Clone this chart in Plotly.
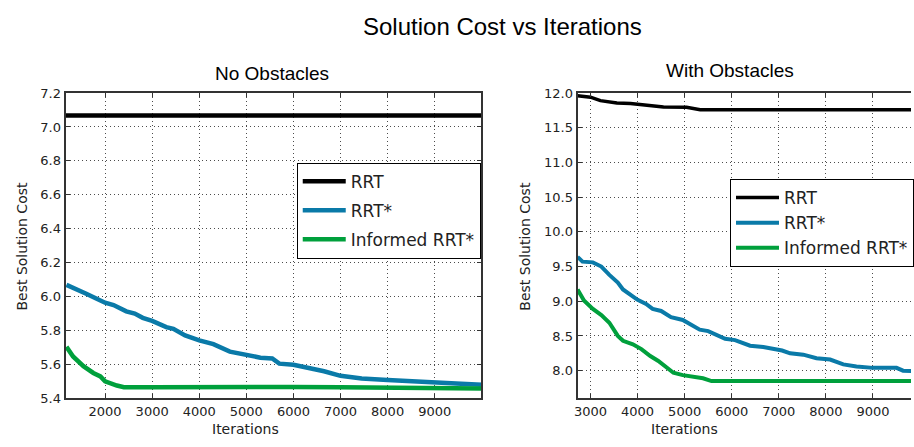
import plotly.graph_objects as go

# ---------------- data ----------------
# Left panel: No Obstacles
no_obs_rrt_x = [1160, 10000]
no_obs_rrt_y = [7.067, 7.067]

no_obs_rrtstar_x = [1180, 1400, 1600, 1800, 2000, 2180, 2450, 2630, 2800, 3000, 3160, 3300,
                    3450, 3700, 4000, 4300, 4650, 5000, 5300, 5550, 5700, 6000, 6350, 6650,
                    7000, 7450, 8000, 8500, 9000, 9560, 10000]
no_obs_rrtstar_y = [6.069, 6.045, 6.017, 5.99, 5.964, 5.95, 5.913, 5.90, 5.875, 5.857, 5.838, 5.82,
                    5.81, 5.771, 5.742, 5.72, 5.676, 5.653, 5.64, 5.635, 5.605, 5.598, 5.58, 5.56,
                    5.533, 5.518, 5.508, 5.499, 5.49, 5.486, 5.48]

no_obs_inf_x = [1180, 1320, 1540, 1750, 1900, 2000, 2250, 2400, 3000, 4000, 5000, 6000, 7000,
                8000, 9000, 10000]
no_obs_inf_y = [5.704, 5.647, 5.59, 5.55, 5.53, 5.501, 5.476, 5.466, 5.466, 5.468, 5.468, 5.467,
                5.466, 5.465, 5.462, 5.458]

# Right panel: With Obstacles
obs_rrt_x = [2725, 3000, 3210, 3560, 3850, 4270, 4550, 5040, 5330, 6000, 8000, 10000]
obs_rrt_y = [11.96, 11.94, 11.89, 11.856, 11.85, 11.82, 11.80, 11.795, 11.76, 11.76, 11.76, 11.76]

obs_rrtstar_x = [2725, 2830, 3050, 3230, 3400, 3580, 3690, 3830, 4000, 4180, 4320, 4500, 4710,
                 4960, 5140, 5320, 5500, 5680, 5860, 6070, 6390, 6670, 7070, 7240, 7520, 7800,
                 8090, 8370, 8650, 9000, 9500, 9640, 10000]
obs_rrtstar_y = [9.64, 9.57, 9.56, 9.50, 9.38, 9.27, 9.17, 9.10, 9.02, 8.96, 8.89, 8.86, 8.77,
                 8.73, 8.66, 8.59, 8.57, 8.51, 8.46, 8.44, 8.36, 8.34, 8.29, 8.25, 8.23, 8.18,
                 8.16, 8.09, 8.06, 8.04, 8.04, 8.00, 7.99]

obs_inf_x = [2725, 2860, 3050, 3230, 3400, 3580, 3690, 3900, 4080, 4270, 4440, 4580, 4760,
             4960, 5180, 5390, 5570, 7000, 10000]
obs_inf_y = [9.17, 9.01, 8.89, 8.80, 8.69, 8.50, 8.43, 8.38, 8.31, 8.21, 8.14, 8.06, 7.97,
             7.935, 7.91, 7.89, 7.85, 7.85, 7.85]

series_names = ["RRT", "RRT*", "Informed RRT*"]
series_colors = ["#000000", "#0a7aa8", "#00a03c"]

left_xticks = [2000, 3000, 4000, 5000, 6000, 7000, 8000, 9000]
left_yticks = [5.4, 5.6, 5.8, 6.0, 6.2, 6.4, 6.6, 6.8, 7.0, 7.2]
right_xticks = [3000, 4000, 5000, 6000, 7000, 8000, 9000]
right_yticks = [8.0, 8.5, 9.0, 9.5, 10.0, 10.5, 11.0, 11.5, 12.0]

# ---------------- figure ----------------
W, H = 914, 447
fig = go.Figure()

left_data = [(no_obs_rrt_x, no_obs_rrt_y), (no_obs_rrtstar_x, no_obs_rrtstar_y), (no_obs_inf_x, no_obs_inf_y)]
right_data = [(obs_rrt_x, obs_rrt_y), (obs_rrtstar_x, obs_rrtstar_y), (obs_inf_x, obs_inf_y)]

for i, (xs, ys) in enumerate(left_data):
    fig.add_trace(go.Scatter(x=xs, y=ys, mode="lines", name=series_names[i],
                             line=dict(color=series_colors[i], width=4.5),
                             legendgroup="L%d" % i,
                             xaxis="x", yaxis="y", legend="legend"))
for i, (xs, ys) in enumerate(right_data):
    fig.add_trace(go.Scatter(x=xs, y=ys, mode="lines", name=series_names[i],
                             line=dict(color=series_colors[i], width=4 if i else 3.5),
                             legendgroup="R%d" % i,
                             xaxis="x2", yaxis="y2", legend="legend2"))

def px(v):
    return v / W

def py(v):
    return 1 - v / H

tickfont = dict(family="DejaVu Sans", size=13, color="#222")
axis_common = dict(showline=True, linecolor="#333", linewidth=2,
                   ticks="inside", ticklen=4, tickcolor="#333",
                   showgrid=True, gridcolor="rgba(0,0,0,0.7)", gridwidth=1, griddash="1px,3px",
                   zeroline=False, tickfont=tickfont)

legend_common = dict(xanchor="left", yanchor="top", bgcolor="white",
                     bordercolor="black", borderwidth=1, itemwidth=43,
                     font=dict(family="DejaVu Sans", size=17, color="#222"),
                     groupclick="toggleitem")

ydom = [py(405), py(89)]
fig.update_layout(
    width=W, height=H, margin=dict(l=0, r=0, t=0, b=0),
    paper_bgcolor="white", plot_bgcolor="white",
    xaxis=dict(domain=[px(62), px(481)], range=[1160, 9990], tickvals=left_xticks,
               anchor="y", mirror="ticks", **axis_common),
    yaxis=dict(domain=ydom, range=[5.4, 7.2], tickvals=left_yticks, tickformat=".1f",
               anchor="x", mirror="ticks", **axis_common),
    xaxis2=dict(domain=[px(578), 1.0], range=[2725, 9808], tickvals=right_xticks,
                anchor="y2", mirror="ticks", **axis_common),
    yaxis2=dict(domain=ydom, range=[7.6, 12.0], tickvals=right_yticks, tickformat=".1f",
                anchor="x2", mirror=False, **axis_common),
    legend=dict(x=px(295), y=py(161), tracegroupgap=4, **legend_common),
    legend2=dict(x=px(732), y=py(178), tracegroupgap=0, **legend_common),
    showlegend=True,
)

ann_font = dict(family="DejaVu Sans", size=14, color="#222")
title_font = dict(family="Liberation Sans", size=19, color="black")
annotations = [
    dict(text="Solution Cost vs Iterations", x=px(502), y=py(20),
         font=dict(family="Liberation Sans", size=24, color="black")),
    dict(text="No Obstacles", x=px(270), y=py(69), font=title_font),
    dict(text="With Obstacles", x=px(732), y=py(66), font=title_font),
    dict(text="Iterations", x=px(243), y=py(437), font=ann_font),
    dict(text="Iterations", x=px(686), y=py(437), font=ann_font),
    dict(text="Best Solution Cost", x=px(18), y=py(247), textangle=-90, font=ann_font),
    dict(text="Best Solution Cost", x=px(525), y=py(247), textangle=-90, font=ann_font),
]
for a in annotations:
    a.update(xref="paper", yref="paper", showarrow=False, xanchor="center", yanchor="middle")
fig.update_layout(annotations=annotations)

fig.write_html("out.html")
